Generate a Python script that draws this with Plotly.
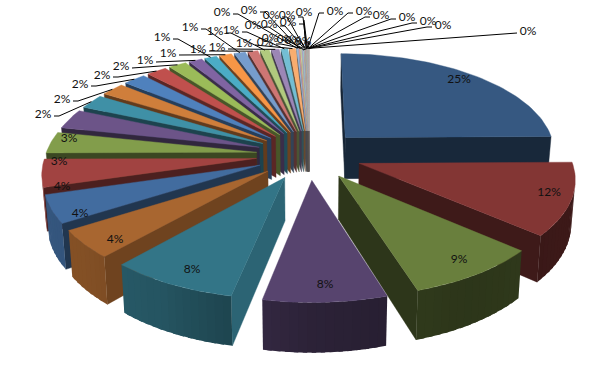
import math
import plotly.graph_objects as go

# ---------- data ----------
values_large = [25.0, 11.6, 8.9, 8.1, 8.45]
values_medium = [4.49, 4.49, 4.45, 3.45, 3.2]
values_two = [2.3, 2.1, 2.0, 1.8, 1.6]
values_one = [1.2, 1.1, 1.1, 1.0, 0.9, 0.8, 0.7, 0.6, 0.55]
values_zero = [0.15, 0.1, 0.1, 0.08, 0.07, 0.06, 0.05, 0.05, 0.04, 0.03,
               0.03, 0.02, 0.02, 0.02, 0.02, 0.01, 0.01, 0.01, 0.01, 0.01]
values = values_large + values_medium + values_two + values_one + values_zero
total = sum(values)

# ---------- style ----------
accents = [(0x4F, 0x81, 0xBD), (0xC0, 0x50, 0x4D), (0x9B, 0xBB, 0x59),
           (0x80, 0x64, 0xA2), (0x4B, 0xAC, 0xC6), (0xF7, 0x96, 0x46)]
tones = [(0.68, 0), (0.84, 0), (1.0, 0), (1.0, 0.22), (1.0, 0.42), (1.0, 0.6), (1.0, 0.72)]

# perspective pie model
CX, CY, RX, RY, K, DEPTH, EXPLODE = 309, 154.8, 211, 99, 0.13, 42, 0.25

# label anchor pixels: inside labels first, then leader-line labels in slice order
inside_labels = [(459, 80), (549, 193), (459, 260), (325, 285), (192, 270),
                 (115, 240), (80, 214), (62, 187), (59, 162), (69, 139)]
leader_labels = [(43, 115), (62, 100), (80, 85), (102, 76), (121, 67),
                 (145, 61), (162, 38), (168, 54), (190, 28), (198, 50),
                 (215, 32), (217, 48), (231, 31), (244, 44),
                 (222, 13), (249, 11), (253, 26), (265, 43), (270, 39),
                 (269, 25), (271, 16), (285, 40), (288, 23), (287, 16),
                 (293, 41), (304, 13), (303, 42),
                 (335, 12), (364, 12), (381, 16), (407, 18), (428, 22),
                 (443, 26), (528, 32)]


def project(X, Y, Z=0.0):
    s = 1 / (1 + K * Y)
    zf = 1 - 0.015 * Z
    return (CX + RX * X * s * zf, CY - RY * Y * s + DEPTH * Z * s)


def interp(table, a):
    a = a % 360
    for (a0, v0), (a1, v1) in zip(table, table[1:]):
        if a0 <= a <= a1:
            return v0 + (v1 - v0) * (a - a0) / (a1 - a0)
    return table[-1][1]


RIM_SHADE = [(0, .42), (120, .46), (150, .42), (180, .5), (209, .72), (230, .78), (260, .8), (360, .8)]
WALL_SHADE = [(0, .9), (90, .9), (104, .85), (133, .65), (146, .5), (180, .45), (223, .48), (256, .42), (360, .42)]


def base_colour(i):
    rgb = accents[i % 6]
    m, t = tones[min(i // 6, len(tones) - 1)]
    return tuple(c * m + (255 - c * m) * t for c in rgb)


def css(rgb, f=1.0):
    return "rgb(%d,%d,%d)" % tuple(round(min(255, c * f)) for c in rgb)


def area(p):
    return sum(a[0] * b[1] - b[0] * a[1] for a, b in zip(p, p[1:] + p[:1]))


fig = go.Figure()


def poly(pts, colour, width=0.4):
    xs = [p[0] for p in pts] + [pts[0][0]]
    ys = [p[1] for p in pts] + [pts[0][1]]
    fig.add_trace(go.Scatter(x=xs, y=ys, mode="lines", fill="toself", fillcolor=colour,
                             line=dict(color=colour, width=width), hoverinfo="skip", showlegend=False))


# slice geometry from the values
slices = []
acc = 0.0
for i, v in enumerate(values):
    a0 = acc / total * 360
    acc += v
    a1 = acc / total * 360
    slices.append((i, a0, a1))


def offset(mid):
    m = math.radians(mid)
    return EXPLODE * math.sin(m), EXPLODE * math.cos(m)


def rim_pt(a, ox, oy, z=0.0):
    t = math.radians(a)
    return project(ox + math.sin(t), oy + math.cos(t), z)


for i, a0, a1 in sorted(slices, key=lambda s: -math.cos(math.radians((s[1] + s[2]) / 2))):
    mid = (a0 + a1) / 2
    ox, oy = offset(mid)
    rgb = base_colour(i)
    apex_t, apex_b = project(ox, oy, 0), project(ox, oy, 1)
    # radial walls
    start = [apex_t, rim_pt(a0, ox, oy), rim_pt(a0, ox, oy, 1), apex_b]
    end = [apex_t, rim_pt(a1, ox, oy), rim_pt(a1, ox, oy, 1), apex_b]
    if area(start) < 0:
        poly(start, css(rgb, interp(WALL_SHADE, a0 - 90)))
    if area(end) > 0:
        poly(end, css(rgb, interp(WALL_SHADE, a1 + 90)))
    # rim strips, each overlapping the next so no seams appear
    n = max(1, int((a1 - a0) / 2))
    for j in range(n):
        b0 = a0 + (a1 - a0) * j / n
        b1 = a0 + (a1 - a0) * (j + 1) / n
        shade = interp(RIM_SHADE, (b0 + b1) / 2)
        tester = [rim_pt(b0, ox, oy), rim_pt(b1, ox, oy), rim_pt(b1, ox, oy, 1), rim_pt(b0, ox, oy, 1)]
        if area(tester) < 0:
            b2 = a1 if j == n - 1 else a0 + (a1 - a0) * (j + 1.5) / n
            m = 4
            top = [rim_pt(b0 + (b2 - b0) * q / m, ox, oy) for q in range(m + 1)]
            bot = [rim_pt(b2 - (b2 - b0) * q / m, ox, oy, 1) for q in range(m + 1)]
            poly(top + bot, css(rgb, shade), width=0)
    # top face
    n = max(2, int((a1 - a0) / 1.5))
    poly([apex_t] + [rim_pt(a0 + (a1 - a0) * q / n, ox, oy) for q in range(n + 1)], css(rgb))

# leader lines and labels
lx, ly, tx, ty, tt = [], [], [], [], []
for k, (px, py) in enumerate(inside_labels):
    tx.append(px); ty.append(py)
    tt.append("%.0f%%" % (values[k] / total * 100))
for n_, (px, py) in enumerate(leader_labels):
    k = len(inside_labels) + n_
    i, a0, a1 = slices[k]
    mid = (a0 + a1) / 2
    ox, oy = offset(mid)
    sx, sy = rim_pt(mid, ox, oy)
    tx.append(px); ty.append(py)
    tt.append("%.0f%%" % (values[k] / total * 100))
    if px > sx + 12:   # label to the right of its slice
        lx += [sx, px - 16, px - 11, None]
    elif px < sx - 12:  # label to the left
        lx += [sx, px + 16, px + 11, None]
    else:
        lx += [sx, px, px, None]
    if abs(px - sx) <= 12:
        ly += [sy, py + 8, py + 7, None]
    else:
        ly += [sy, py + 1, py + 1, None]

fig.add_trace(go.Scatter(x=lx, y=ly, mode="lines", line=dict(color="black", width=1),
                         hoverinfo="skip", showlegend=False))
fig.add_trace(go.Scatter(x=tx, y=ty, mode="text", text=tt, textposition="middle center",
                         textfont=dict(family="Lato", size=12, color="#111111"),
                         hoverinfo="skip", showlegend=False))

fig.update_layout(width=611, height=388, margin=dict(l=0, r=0, t=0, b=0),
                  paper_bgcolor="white", plot_bgcolor="white",
                  xaxis=dict(range=[0, 611], visible=False, fixedrange=True),
                  yaxis=dict(range=[388, 0], visible=False, fixedrange=True))
fig.write_html("out.html", config=dict(displayModeBar=False),
               post_script="document.body.style.margin='0';document.documentElement.style.overflow='hidden';")
